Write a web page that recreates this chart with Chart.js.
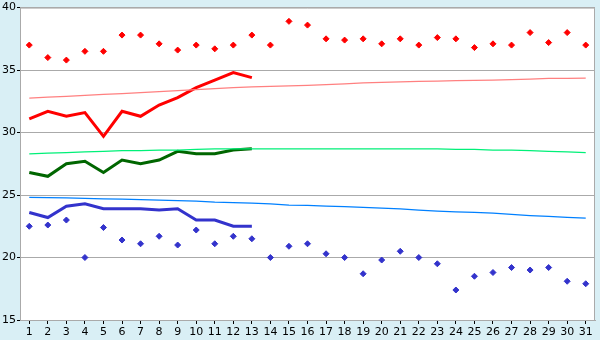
<!DOCTYPE html>
<html>
<head>
<meta charset="utf-8">
<script src="https://cdn.jsdelivr.net/npm/chart.js@4/dist/chart.umd.min.js"></script>
<style>
  html, body { margin: 0; padding: 0; background: #d9eff5; }
  #wrap { width: 600px; height: 340px; position: relative; }
</style>
</head>
<body>
<div id="wrap"><canvas id="c" width="600" height="340"></canvas></div>
<script>
const days = ["1","2","3","4","5","6","7","8","9","10","11","12","13","14","15","16","17","18","19","20","21","22","23","24","25","26","27","28","29","30","31"];
const yTicks = [15, 20, 25, 30, 35, 40];

const dailyMax = [37.0,36.0,35.8,36.5,36.5,37.8,37.8,37.1,36.6,37.0,36.7,37.0,37.8,37.0,38.9,38.6,37.5,37.4,37.5,37.1,37.5,37.0,37.6,37.5,36.8,37.1,37.0,38.0,37.2,38.0,37.0];
const dailyMin = [22.5,22.6,23.0,20.0,22.4,21.4,21.1,21.7,21.0,22.2,21.1,21.7,21.5,20.0,20.9,21.1,20.3,20.0,18.7,19.8,20.5,20.0,19.5,17.4,18.5,18.8,19.2,19.0,19.2,18.1,17.9];

const avgMax  = [31.1,31.7,31.3,31.6,29.7,31.7,31.3,32.2,32.8,33.6,34.2,34.8,34.4,null,null,null,null,null,null,null,null,null,null,null,null,null,null,null,null,null,null];
const avgMean = [26.8,26.5,27.5,27.7,26.8,27.8,27.5,27.8,28.5,28.3,28.3,28.6,28.7,null,null,null,null,null,null,null,null,null,null,null,null,null,null,null,null,null,null];
const avgMin  = [23.6,23.2,24.1,24.3,23.9,23.9,23.9,23.8,23.9,23.0,23.0,22.5,22.5,null,null,null,null,null,null,null,null,null,null,null,null,null,null,null,null,null,null];

const normMax  = [32.75,32.83,32.9,32.98,33.05,33.12,33.2,33.28,33.36,33.44,33.52,33.6,33.65,33.7,33.74,33.78,33.83,33.9,33.97,34.02,34.06,34.1,34.12,34.15,34.18,34.2,34.23,34.27,34.33,34.34,34.35];
const normMean = [28.3,28.35,28.4,28.45,28.5,28.55,28.55,28.6,28.6,28.65,28.7,28.7,28.7,28.7,28.7,28.7,28.7,28.7,28.7,28.7,28.7,28.7,28.7,28.65,28.65,28.6,28.6,28.55,28.5,28.45,28.4];
const normMin  = [24.82,24.8,24.77,24.73,24.7,24.67,24.64,24.6,24.56,24.52,24.44,24.4,24.35,24.3,24.2,24.17,24.12,24.08,24.02,23.96,23.9,23.8,23.72,23.66,23.62,23.55,23.45,23.36,23.3,23.22,23.15];

const frame = {
  id: 'frame',
  beforeDraw(chart) {
    const { ctx, chartArea: a } = chart;
    ctx.save();
    ctx.fillStyle = '#d9eff5';
    ctx.fillRect(0, 0, chart.width, chart.height);
    ctx.fillStyle = '#ffffff';
    ctx.fillRect(a.left, a.top, a.right - a.left, a.bottom - a.top);
    ctx.restore();
  },
  afterDatasetsDraw(chart) {
    const { ctx, chartArea: a } = chart;
    ctx.save();
    ctx.strokeStyle = '#aaaaaa';
    ctx.lineWidth = 1;
    ctx.beginPath();
    ctx.moveTo(a.left, a.top + 0.5);
    ctx.lineTo(a.right - 0.5, a.top + 0.5);
    ctx.lineTo(a.right - 0.5, a.bottom);
    ctx.stroke();
    ctx.restore();
  }
};

function lineDs(data, color, width) {
  return { data, borderColor: color, backgroundColor: color, borderWidth: width, pointRadius: 0, tension: 0, spanGaps: false, fill: false };
}
function pointDs(data, color) {
  return { data, borderColor: color, backgroundColor: color, showLine: false, pointStyle: 'rectRot', pointRadius: 3, pointBorderWidth: 1, fill: false };
}

new Chart(document.getElementById('c'), {
  type: 'line',
  data: {
    labels: days,
    datasets: [
      lineDs(normMax, '#ff8080', 1.3),
      lineDs(normMean, '#00f078', 1.3),
      lineDs(normMin, '#0080ff', 1.3),
      lineDs(avgMax, '#ff0000', 3),
      lineDs(avgMean, '#006600', 3),
      lineDs(avgMin, '#3333cc', 3),
      pointDs(dailyMax, '#ff0000'),
      pointDs(dailyMin, '#3333cc')
    ]
  },
  options: {
    responsive: false,
    animation: false,
    events: [],
    layout: { padding: { top: 5, right: 5, left: 0, bottom: 0 } },
    plugins: { legend: { display: false }, tooltip: { enabled: false } },
    scales: {
      x: {
        offset: true,
        grid: { drawOnChartArea: false, drawTicks: true, tickLength: 4, color: '#000000' },
        border: { color: '#aaaaaa', width: 1 },
        ticks: { color: '#000000', font: { family: 'DejaVu Sans', size: 11 }, padding: 2, maxRotation: 0, autoSkip: false },
        afterFit(s) { s.height = 20; }
      },
      y: {
        min: 15, max: 40,
        afterBuildTicks(s) { s.ticks = yTicks.map(v => ({ value: v })); },
        grid: { color: '#aaaaaa', tickLength: 3, tickColor: '#000000' },
        border: { color: '#aaaaaa', width: 1 },
        ticks: { color: '#000000', font: { family: 'DejaVu Sans', size: 11 }, padding: 1 },
        afterFit(s) { s.width = 20; }
      }
    }
  },
  plugins: [frame]
});
</script>
</body>
</html>
